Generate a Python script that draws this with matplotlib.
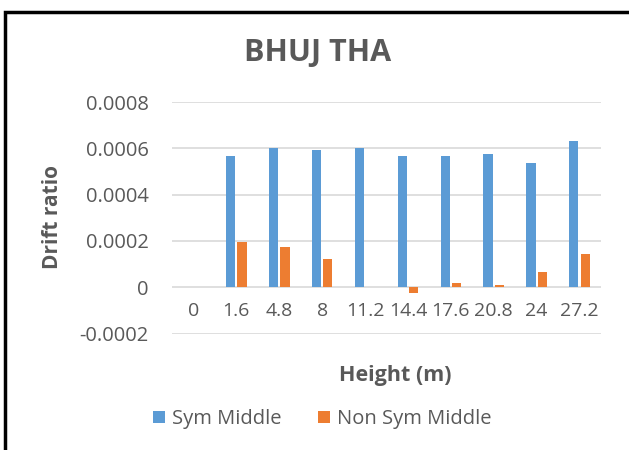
import matplotlib
matplotlib.use("Agg")
import matplotlib.pyplot as plt
from matplotlib.patches import Rectangle
import numpy as np

heights = ["0", "1.6", "4.8", "8", "11.2", "14.4", "17.6", "20.8", "24", "27.2"]
sym_middle = [0, 0.000568, 0.0006, 0.000594, 0.0006, 0.000568, 0.000568, 0.000574, 0.000538, 0.00063]
non_sym_middle = [0, 0.000195, 0.000175, 0.000123, 0, -0.000024, 0.00002, 0.0000115, 0.0000665, 0.000145]
y_ticks = [-0.0002, 0, 0.0002, 0.0004, 0.0006, 0.0008]
y_labels = ["-0.0002", "0", "0.0002", "0.0004", "0.0006", "0.0008"]

TEXT = "#595959"
BLUE = "#5B9BD5"
ORANGE = "#ED7D31"
plt.rcParams["font.family"] = ["Open Sans", "DejaVu Sans"]

fig = plt.figure(figsize=(6.29, 4.5), dpi=100, facecolor="white")
ax = fig.add_axes([172 / 629, 1 - 333.5 / 450, 429 / 629, 231.5 / 450])

x = np.arange(len(heights))
w = 0.215
ax.bar(x - 0.133, sym_middle, width=w, color=BLUE, zorder=3, label="Sym Middle")
ax.bar(x + 0.133, non_sym_middle, width=w, color=ORANGE, zorder=3, label="Non Sym Middle")

ax.set_xlim(-0.5, len(heights) - 0.5)
ax.set_ylim(-0.0002, 0.0008)
ax.set_yticks(y_ticks)
ax.set_yticklabels(y_labels)
ax.grid(axis="y", color="#D9D9D9", linewidth=1.2, zorder=0)
ax.set_axisbelow(True)
for s in ax.spines.values():
    s.set_visible(False)
# category labels sit just under the zero line, as in Excel
ax.spines["bottom"].set_position(("data", 0))
ax.set_xticks(x)
ax.set_xticklabels(heights)
ax.tick_params(axis="x", length=0, pad=11, labelsize=14, labelcolor=TEXT)
ax.tick_params(axis="y", length=0, pad=17, labelsize=14.5, labelcolor=TEXT)

fig.text(318 / 629, 1 - 53 / 450, "BHUJ THA", ha="center", va="center",
         fontsize=22, fontweight="bold", color=TEXT)
fig.text(53 / 629, 1 - 217 / 450, "Drift ratio", ha="center", va="center",
         rotation=90, fontsize=15, fontweight="bold", color=TEXT)
fig.text(395 / 629, 1 - 375 / 450, "Height (m)", ha="center", va="center",
         fontsize=15.5, fontweight="bold", color=TEXT)

fig.legend(loc="center", bbox_to_anchor=(322 / 629, 1 - 419 / 450), ncol=2,
           frameon=False, fontsize=14.5, labelcolor=TEXT, handlelength=0.6,
           handleheight=0.6, handletextpad=0.35, columnspacing=1.8)

fig.patches.append(Rectangle((5 / 629, -0.1), 1.2, 1 - 12 / 450 + 0.1,
                             transform=fig.transFigure, fill=False,
                             edgecolor="black", linewidth=2.5))

fig.savefig("out.png", dpi=100, facecolor="white")
